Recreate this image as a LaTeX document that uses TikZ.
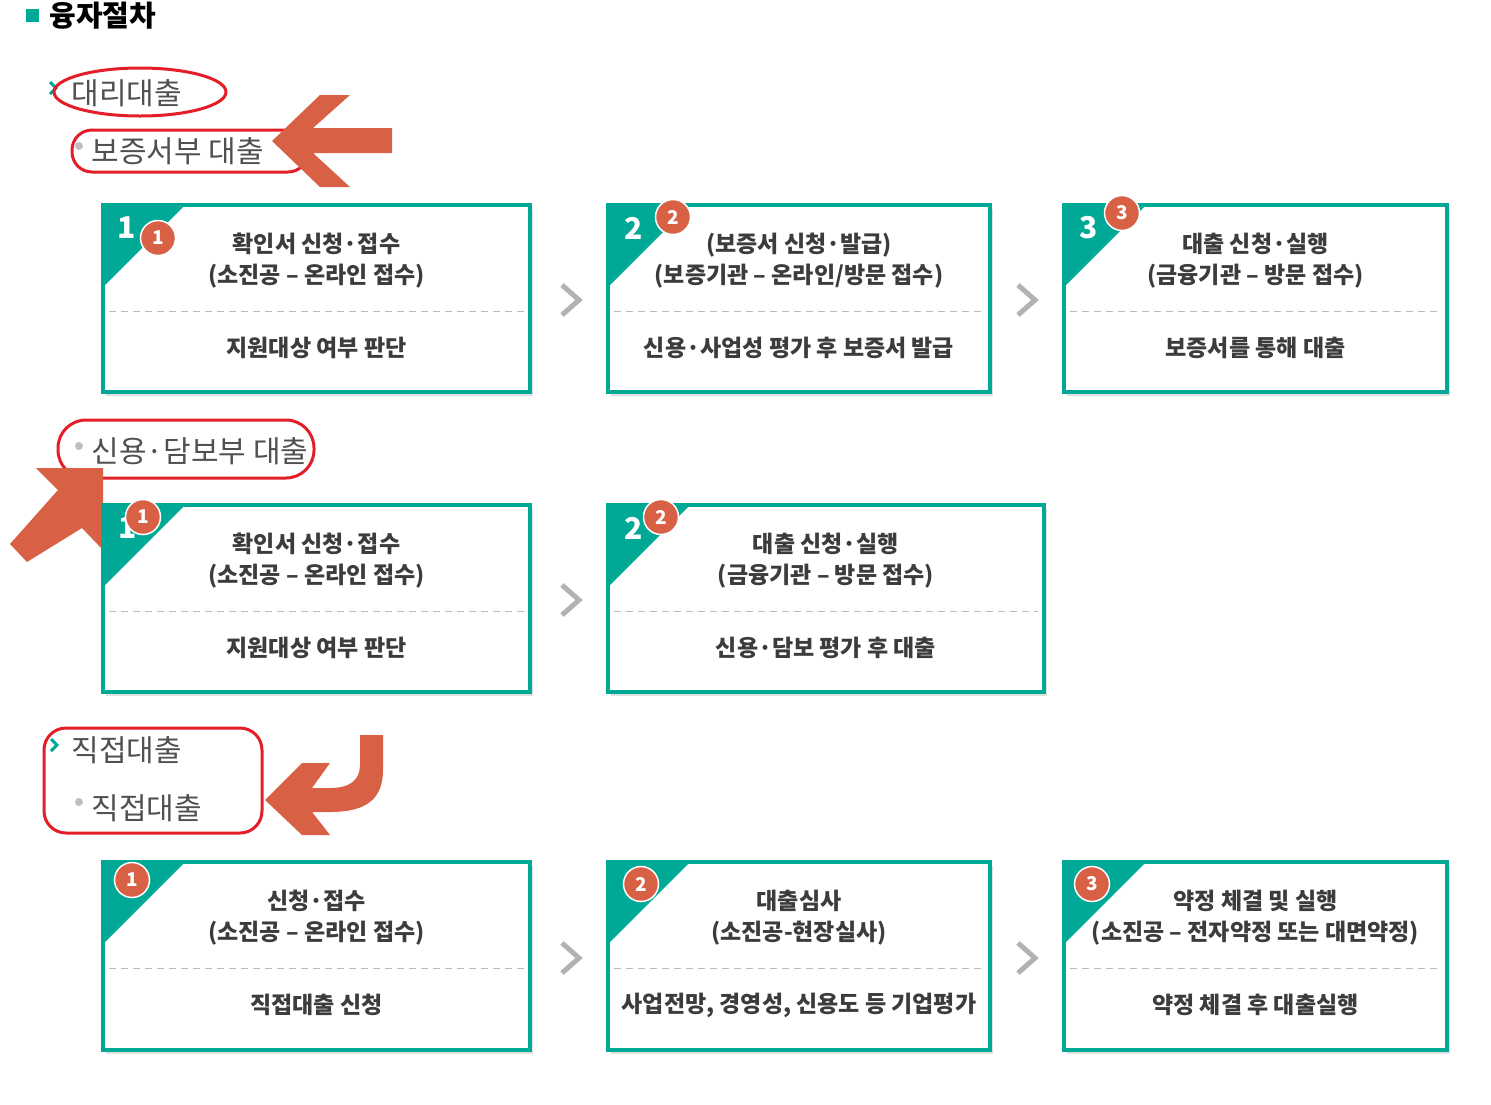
\documentclass[tikz,border=0pt]{standalone}
\usepackage{fontspec}
\setmainfont{Noto Sans CJK KR}
\begin{document}
\begin{tikzpicture}[x=1pt,y=-1pt,
  teal/.style={draw=tealc,line width=4pt},
  cir/.style={circle,fill=orc,draw=white,line width=1.5pt,minimum size=35pt,inner sep=0pt,text=white,font=\fontsize{19}{19}\selectfont\bfseries},
  bt/.style={text=txt,font=\fontsize{23}{31}\selectfont\bfseries,align=center},
  lab/.style={text=lab,font=\fontsize{30}{30}\selectfont,anchor=west},
  redm/.style={draw=redc,line width=3pt},
  chev/.style={draw=gray!60,line width=5pt},
  mchev/.style={draw=tealc,line width=3pt},
  snum/.style={text=white,font=\fontsize{30}{30}\selectfont\bfseries}]
\definecolor{tealc}{RGB}{0,168,150}
\definecolor{orc}{RGB}{216,96,68}
\definecolor{txt}{RGB}{60,60,60}
\definecolor{lab}{RGB}{80,80,80}
\definecolor{redc}{RGB}{228,30,40}
\useasboundingbox (0,0) rectangle (1491,1104);
% heading
\fill[tealc] (26,9) rectangle (39,22);
\node[anchor=west,font=\fontsize{29}{29}\selectfont\bfseries,text=black] (hd) at (46,16) {융자절차};
% labels
\draw[mchev] (50,82) -- (56,88) -- (50,94);
\node[lab] (l1) at (68,93) {대리대출};
\fill[gray!50] (79,146) circle (4);
\node[lab] (l2) at (88,151) {보증서부 대출};
\fill[gray!50] (79,446) circle (4);
\node[lab] (l3) at (88,451) {신용·담보부 대출};
\draw[mchev] (51,739) -- (57,745) -- (51,751);
\node[lab] (l4) at (68,750) {직접대출};
\fill[gray!50] (79,802) circle (4);
\node[lab] (l5) at (88,808) {직접대출};
% red marks
\draw[redm] (140,92) ellipse (86 and 24);
\draw[redm,rounded corners=20] (72,130) rectangle (308,172);
\draw[redm,rounded corners=28] (58,420) rectangle (314,478);
\draw[redm,rounded corners=22] (44,728) rectangle (262,833);
% orange arrows
\fill[orc] (272,141) -- (320,95) -- (350,95) -- (313,128) -- (392,128) -- (392,153) -- (313,153) -- (350,187) -- (320,187) -- cycle;
\fill[orc] (103,468) -- (103,550) -- (82,528) -- (27,562) -- (10,544) -- (58,490) -- (36,468) -- cycle;
\fill[orc] (360,735) -- (383,735) -- (383,770) .. controls (383,800) and (365,812) .. (330,812) -- (312,812) -- (330,835) -- (302,835) -- (265,800) -- (302,763) -- (330,763) -- (312,788) -- (330,788) .. controls (350,788) and (360,780) .. (360,765) -- cycle;
% boxes
\newcommand{\stepbox}[7]{%
  \fill[gray!25] (#1+3,#2+4) rectangle (#3+3,#4+4);
  \fill[white] (#1,#2) rectangle (#3,#4);
  \fill[tealc] (#1,#2) -- (#1+82,#2) -- (#1,#2+82) -- cycle;
  \draw[teal] (#1,#2) rectangle (#3,#4);
  \draw[gray!55,line width=0.8pt,dash pattern=on 7pt off 5pt] (#1+6,#2+106) -- (#3-6,#2+106);
  \node[bt] (#5a) at ({(#1+#3)/2},#2+56) {#6};
  \node[bt] (#5b) at ({(#1+#3)/2},#2+143) {#7};
}
\stepbox{103}{205}{530}{392}{p}{확인서 신청·접수\\(소진공 – 온라인 접수)}{지원대상 여부 판단}
\stepbox{608}{205}{990}{392}{q}{(보증서 신청·발급)\\(보증기관 – 온라인/방문 접수)}{신용·사업성 평가 후 보증서 발급}
\stepbox{1064}{205}{1447}{392}{r}{대출 신청·실행\\(금융기관 – 방문 접수)}{보증서를 통해 대출}
\stepbox{103}{505}{530}{692}{s}{확인서 신청·접수\\(소진공 – 온라인 접수)}{지원대상 여부 판단}
\stepbox{608}{505}{1044}{692}{t}{대출 신청·실행\\(금융기관 – 방문 접수)}{신용·담보 평가 후 대출}
\stepbox{103}{862}{530}{1050}{u}{신청·접수\\(소진공 – 온라인 접수)}{직접대출 신청}
\stepbox{608}{862}{990}{1050}{v}{대출심사\\(소진공-현장실사)}{사업전망, 경영성, 신용도 등 기업평가}
\stepbox{1064}{862}{1447}{1050}{w}{약정 체결 및 실행\\(소진공 – 전자약정 또는 대면약정)}{약정 체결 후 대출실행}
% step numbers
\node[snum] (n1) at (127,228) {1};
\node[snum] (n2) at (634,228) {2};
\node[snum] (n3) at (1089,228) {3};
\node[snum] (n4) at (128,528) {1};
\node[snum] (n5) at (634,528) {2};
% circles
\node[cir] (c1) at (158,238) {1};
\node[cir] (c2) at (673,217) {2};
\node[cir] (c3) at (1122,213) {3};
\node[cir] (c4) at (143,517) {1};
\node[cir] (c5) at (661,517) {2};
\node[cir] (c6) at (132,880) {1};
\node[cir] (c7) at (641,884) {2};
\node[cir] (c8) at (1092,884) {3};
% chevrons
\foreach \x/\y in {572/300,1028/300,572/600,572/958,1028/958}
  \draw[chev] (\x-10,\y-15) -- (\x+7,\y) -- (\x-10,\y+15);
\end{tikzpicture}
\end{document}
